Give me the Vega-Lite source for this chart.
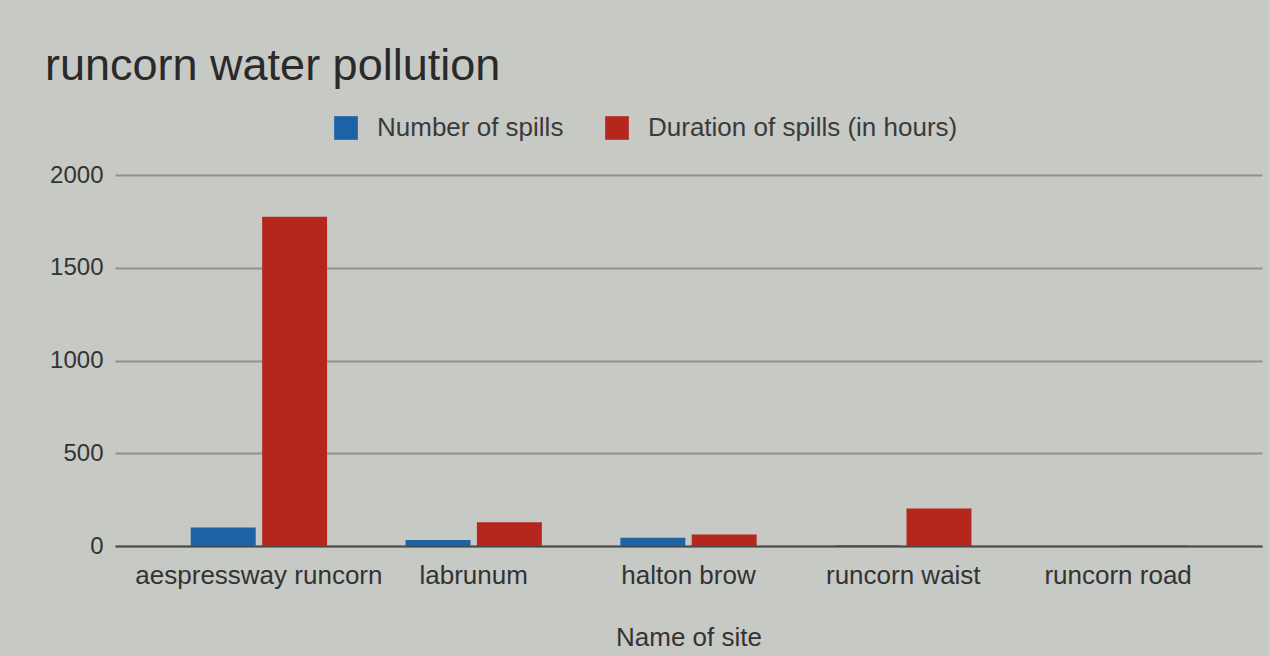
{
  "$schema": "https://vega.github.io/schema/vega-lite/v6.json",
  "autosize": "none",
  "width": 1147,
  "height": 371,
  "padding": {"left": 115, "top": 175, "right": 7, "bottom": 110},
  "background": "#c7c9c5",
  "config": {
    "font": "Liberation Sans",
    "view": {"stroke": null}
  },
  "title": {
    "text": "runcorn water pollution",
    "anchor": "start",
    "frame": "group",
    "dx": -70,
    "fontSize": 45,
    "fontWeight": "normal",
    "color": "#2a2a2a",
    "baseline": "alphabetic",
    "offset": -10
  },
  "data": {
    "values": [
      {"site": "aespressway runcorn", "series": "Number of spills", "value": 100},
      {"site": "aespressway runcorn", "series": "Duration of spills (in hours)", "value": 1775},
      {"site": "labrunum", "series": "Number of spills", "value": 32},
      {"site": "labrunum", "series": "Duration of spills (in hours)", "value": 128},
      {"site": "halton brow", "series": "Number of spills", "value": 45},
      {"site": "halton brow", "series": "Duration of spills (in hours)", "value": 62},
      {"site": "runcorn waist", "series": "Number of spills", "value": 4},
      {"site": "runcorn waist", "series": "Duration of spills (in hours)", "value": 202},
      {"site": "runcorn road", "series": "Number of spills", "value": 0},
      {"site": "runcorn road", "series": "Duration of spills (in hours)", "value": 3}
    ]
  },
  "mark": {"type": "bar"},
  "encoding": {
    "x": {
      "field": "site",
      "type": "nominal",
      "sort": null,
      "title": "Name of site",
      "scale": {"paddingInner": 0, "paddingOuter": 0.17},
      "axis": {
        "labelAngle": 0,
        "labelFontSize": 26,
        "labelLimit": 0,
        "labelColor": "#333333",
        "labelPadding": 16,
        "ticks": false,
        "domainColor": "#4a4c4a",
        "domainWidth": 2,
        "titleFontSize": 26,
        "titleFontWeight": "normal",
        "titleColor": "#333333",
        "titlePadding": 36
      }
    },
    "xOffset": {
      "field": "series",
      "type": "nominal",
      "sort": ["Number of spills", "Duration of spills (in hours)"],
      "scale": {"paddingInner": 0.09, "paddingOuter": 0.55}
    },
    "y": {
      "field": "value",
      "type": "quantitative",
      "title": null,
      "scale": {"domain": [0, 2000]},
      "axis": {
        "values": [0, 500, 1000, 1500, 2000],
        "format": "d",
        "labelFontSize": 24,
        "labelColor": "#333333",
        "labelPadding": 12,
        "ticks": false,
        "domain": false,
        "gridColor": "#8f918d",
        "gridWidth": 2
      }
    },
    "color": {
      "field": "series",
      "type": "nominal",
      "sort": ["Number of spills", "Duration of spills (in hours)"],
      "scale": {"range": ["#1b62a6", "#b5261d"]},
      "legend": {
        "title": null,
        "orient": "none",
        "direction": "horizontal",
        "legendX": 218,
        "legendY": -60,
        "symbolType": "square",
        "symbolSize": 560,
        "symbolStrokeWidth": 0,
        "symbolOpacity": 1,
        "labelFontSize": 26,
        "labelLimit": 0,
        "labelColor": "#3a3a3a",
        "labelOffset": 18,
        "columnPadding": 40,
        "padding": 0
      }
    }
  }
}
